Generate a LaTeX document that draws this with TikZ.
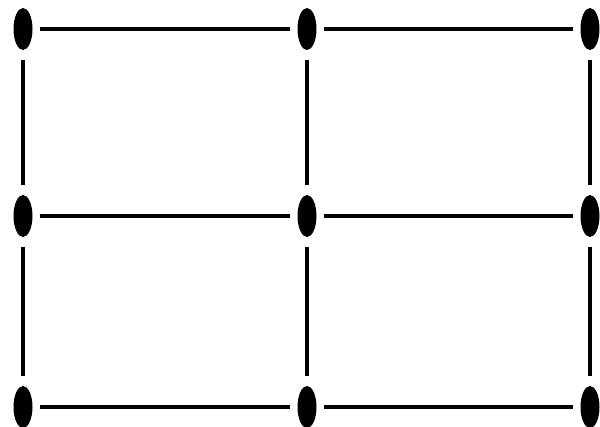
\documentclass[tikz,border=0pt]{standalone}
\usetikzlibrary{shapes.geometric}

\begin{document}
\begin{tikzpicture}[x=1pt, y=-1pt]

\tikzset{
  dot/.style={ellipse, fill=black, draw=none, minimum width=19, minimum height=42, inner sep=0},
  hlink/.style={line width=4, shorten <=7, shorten >=7},
  vlink/.style={line width=4, shorten <=10, shorten >=10}
}

\useasboundingbox (0,0) rectangle (600,427);

%grid
\node[dot] (a1) at (23,29) {};
\node[dot] (a2) at (307,29) {};
\node[dot] (a3) at (590,29) {};
\node[dot] (b1) at (23,216) {};
\node[dot] (b2) at (307,216) {};
\node[dot] (b3) at (590,216) {};
\node[dot] (c1) at (23,407) {};
\node[dot] (c2) at (307,407) {};
\node[dot] (c3) at (590,407) {};

\foreach \r in {a,b,c} {
  \draw[hlink] (\r1) -- (\r2);
  \draw[hlink] (\r2) -- (\r3);
}
\foreach \c in {1,2,3} {
  \draw[vlink] (a\c) -- (b\c);
  \draw[vlink] (b\c) -- (c\c);
}
\end{tikzpicture}
\end{document}
